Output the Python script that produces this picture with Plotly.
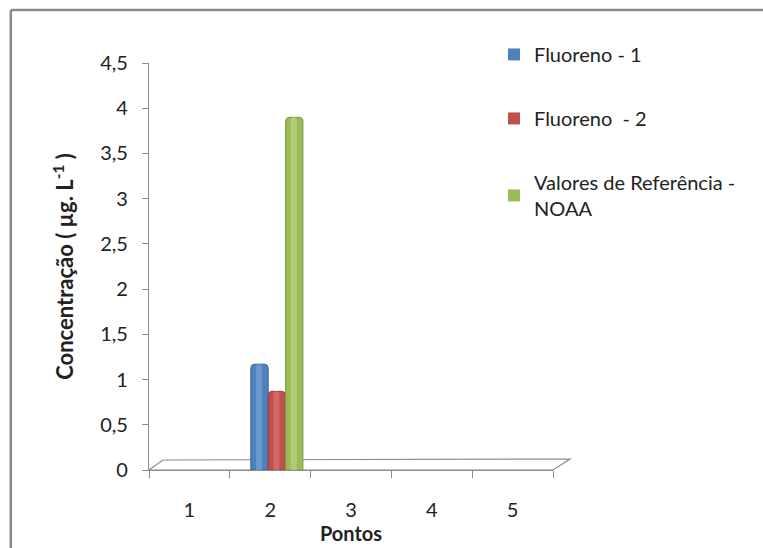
import plotly.graph_objects as go

# Sampling points and measured concentrations (µg/L)
pontos = ["1", "2", "3", "4", "5"]
fluoreno_1 = [None, 1.17, None, None, None]
fluoreno_2 = [None, 0.87, None, None, None]
noaa_ref = [None, 3.9, None, None, None]

series_names = ["Fluoreno - 1", "Fluoreno  - 2", "Valores de Referência -<br>NOAA"]
series_values = [fluoreno_1, fluoreno_2, noaa_ref]

y_tickvals = [0, 0.5, 1, 1.5, 2, 2.5, 3, 3.5, 4, 4.5]
y_ticktext = ["0", "0,5", "1", "1,5", "2", "2,5", "3", "3,5", "4", "4,5"]

colors = ["#4F81BD", "#C0504D", "#9BBB59"]
edge_colors = ["#3A659A", "#9C3B38", "#7A9A42"]
highlight = ["#7FA6D8", "#DA7C79", "#BCD88A"]
offsets = [-0.24, -0.025, 0.19]
bar_w = 0.215

FONT = "Lato"
FS = 20
GRAY = "#8C8C8C"
TXT = "#222"

fig = go.Figure()
for i, (name, vals) in enumerate(zip(series_names, series_values)):
    # cylinder body with rounded top
    fig.add_trace(go.Bar(
        x=pontos, y=vals, name=name, showlegend=False,
        marker=dict(color=colors[i], line=dict(color=edge_colors[i], width=1), cornerradius=4),
        width=bar_w, offset=offsets[i], legendgroup=f"g{i}",
    ))
    # lighter strip for a cylindrical look
    fig.add_trace(go.Bar(
        x=pontos, y=vals, showlegend=False, hoverinfo="skip",
        marker=dict(color=highlight[i], line=dict(width=0), cornerradius=3),
        width=bar_w * 0.35, offset=offsets[i] + bar_w * 0.3,
        opacity=0.6, legendgroup=f"g{i}",
    ))
    # square legend key
    fig.add_trace(go.Bar(
        x=[None], y=[None], name=name, legendgroup=f"g{i}",
        marker=dict(color=colors[i], line=dict(width=0)),
    ))

# 3D floor outline
fig.add_shape(type="path", xref="paper", yref="paper",
              path="M 0,0 L 0.0347,0.0246 L 1.042,0.027 L 1,0 Z",
              line=dict(color=GRAY, width=1.2), fillcolor="rgba(0,0,0,0)", layer="below")
# outer chart frame (left and top edges)
fig.add_shape(type="line", xref="paper", yref="paper",
              x0=-0.342, y0=1.13, x1=-0.342, y1=-0.3, line=dict(color="#8A8A8A", width=2.5))
fig.add_shape(type="line", xref="paper", yref="paper",
              x0=-0.342, y0=1.13, x1=1.6, y1=1.13, line=dict(color="#8A8A8A", width=2.5))

fig.update_layout(
    width=763, height=548,
    margin=dict(l=149, r=210, t=63, b=78),
    paper_bgcolor="white", plot_bgcolor="white",
    barmode="overlay",
    font=dict(family=FONT, size=FS, color=TXT),
    showlegend=True,
    legend=dict(x=0.854, y=1.069, xanchor="left", yanchor="top",
                tracegroupgap=35, font=dict(size=FS, family=FONT, color=TXT),
                bgcolor="rgba(0,0,0,0)"),
    xaxis=dict(type="category", categoryorder="array", categoryarray=pontos,
               range=[-0.5, 4.5], tickson="boundaries", ticks="outside",
               ticklen=7, tickcolor=GRAY, showline=True, linecolor=GRAY, linewidth=1.2,
               showgrid=False, zeroline=False, ticklabelstandoff=22, automargin=False,
               tickfont=dict(size=FS, family=FONT, color=TXT),
               title=dict(text="<b>Pontos</b>", standoff=4,
                          font=dict(size=FS, family=FONT, color=TXT))),
    yaxis=dict(range=[0, 4.5], tickvals=y_tickvals, ticktext=y_ticktext,
               ticks="outside", ticklen=6, tickcolor=GRAY, showline=True,
               linecolor=GRAY, linewidth=1.2, showgrid=False, zeroline=False,
               ticklabelstandoff=10, automargin=False,
               tickfont=dict(size=FS, family=FONT, color=TXT),
               title=dict(text="<b>Concentração ( µg. L<sup>-1</sup> )</b>", standoff=20,
                          font=dict(size=22, family=FONT, color=TXT))),
)

fig.write_html("out.html")
